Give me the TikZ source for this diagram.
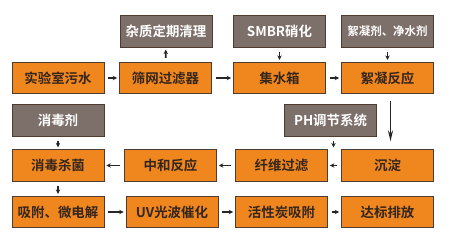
\documentclass[tikz,border=0pt]{standalone}
\usepackage{fontspec}
\newfontfamily\cjk{Noto Sans CJK SC Bold}
\usetikzlibrary{arrows.meta}
\definecolor{boxor}{HTML}{F0871E}
\definecolor{boxgr}{HTML}{7D6F69}
\definecolor{edgec}{HTML}{4E3C30}
\definecolor{txtd}{HTML}{35261C}
\begin{document}
\begin{tikzpicture}[x=1bp,y=-1bp,
  base/.style={draw=edgec,line width=0.7bp,minimum width=92bp,minimum height=31.5bp,inner sep=0pt,font=\cjk\fontsize{13.5}{14}\selectfont},
  obox/.style={base,fill=boxor,text=txtd},
  gbox/.style={base,fill=boxgr,text=white},
  arr/.style={-{Stealth[length=4.5bp,width=4.5bp]},line width=1.6bp,draw=black!85,shorten <=4bp,shorten >=2bp}]
\useasboundingbox (0,0) rectangle (454,244);
\node[gbox] (zz) at (166,31.5) {杂质定期清理};
\node[gbox] (smbr) at (279.5,31.5) {SMBR硝化};
\node[gbox,font=\cjk\fontsize{11.5}{12}\selectfont] (xnj) at (387.5,31.5) {絮凝剂、净水剂};
\node[obox] (sys) at (58,78) {实验室污水};
\node[obox] (sw) at (165.5,78) {筛网过滤器};
\node[obox] (jsx) at (279.5,78) {集水箱};
\node[obox] (xnfy) at (387.5,78) {絮凝反应};
\node[gbox] (xdj) at (58,120.5) {消毒剂};
\node[gbox] (ph) at (330.5,120.5) {PH调节系统};
\node[obox] (xdsj) at (58,165.5) {消毒杀菌};
\node[obox] (zhfy) at (170.5,165.5) {中和反应};
\node[obox] (xwgl) at (281.5,165.5) {纤维过滤};
\node[obox] (cd) at (387.5,165.5) {沉淀};
\node[obox] (xf) at (58,212) {吸附、微电解};
\node[obox] (uv) at (172,212) {UV光波催化};
\node[obox] (hxt) at (281.5,212) {活性炭吸附};
\node[obox] (dbpf) at (387.5,212) {达标排放};
\draw[arr] (sys) -- (sw);
\draw[arr] (sw) -- (jsx);
\draw[arr] (jsx) -- (xnfy);
\draw[arr] (sw) -- (zz);
\draw[arr] (smbr) -- (jsx);
\draw[arr] (xnj) -- (xnfy);
\draw[arr,line width=1.8bp,shorten <=7bp,shorten >=8bp,-{Stealth[length=11bp,width=5bp]}] ([xshift=3bp]xnfy.south) -- ([xshift=3bp]cd.north);
\draw[arr] ([xshift=3bp]ph.south) -- ([xshift=3bp]ph.south |- xwgl.north);
\draw[arr] (cd) -- (xwgl);
\draw[arr] (xwgl) -- (zhfy);
\draw[arr] (zhfy) -- (xdsj);
\draw[arr] (xdj) -- (xdsj);
\draw[arr] (xdsj) -- (xf);
\draw[arr] (xf) -- (uv);
\draw[arr] (uv) -- (hxt);
\draw[arr] (hxt) -- (dbpf);
\end{tikzpicture}
\end{document}
